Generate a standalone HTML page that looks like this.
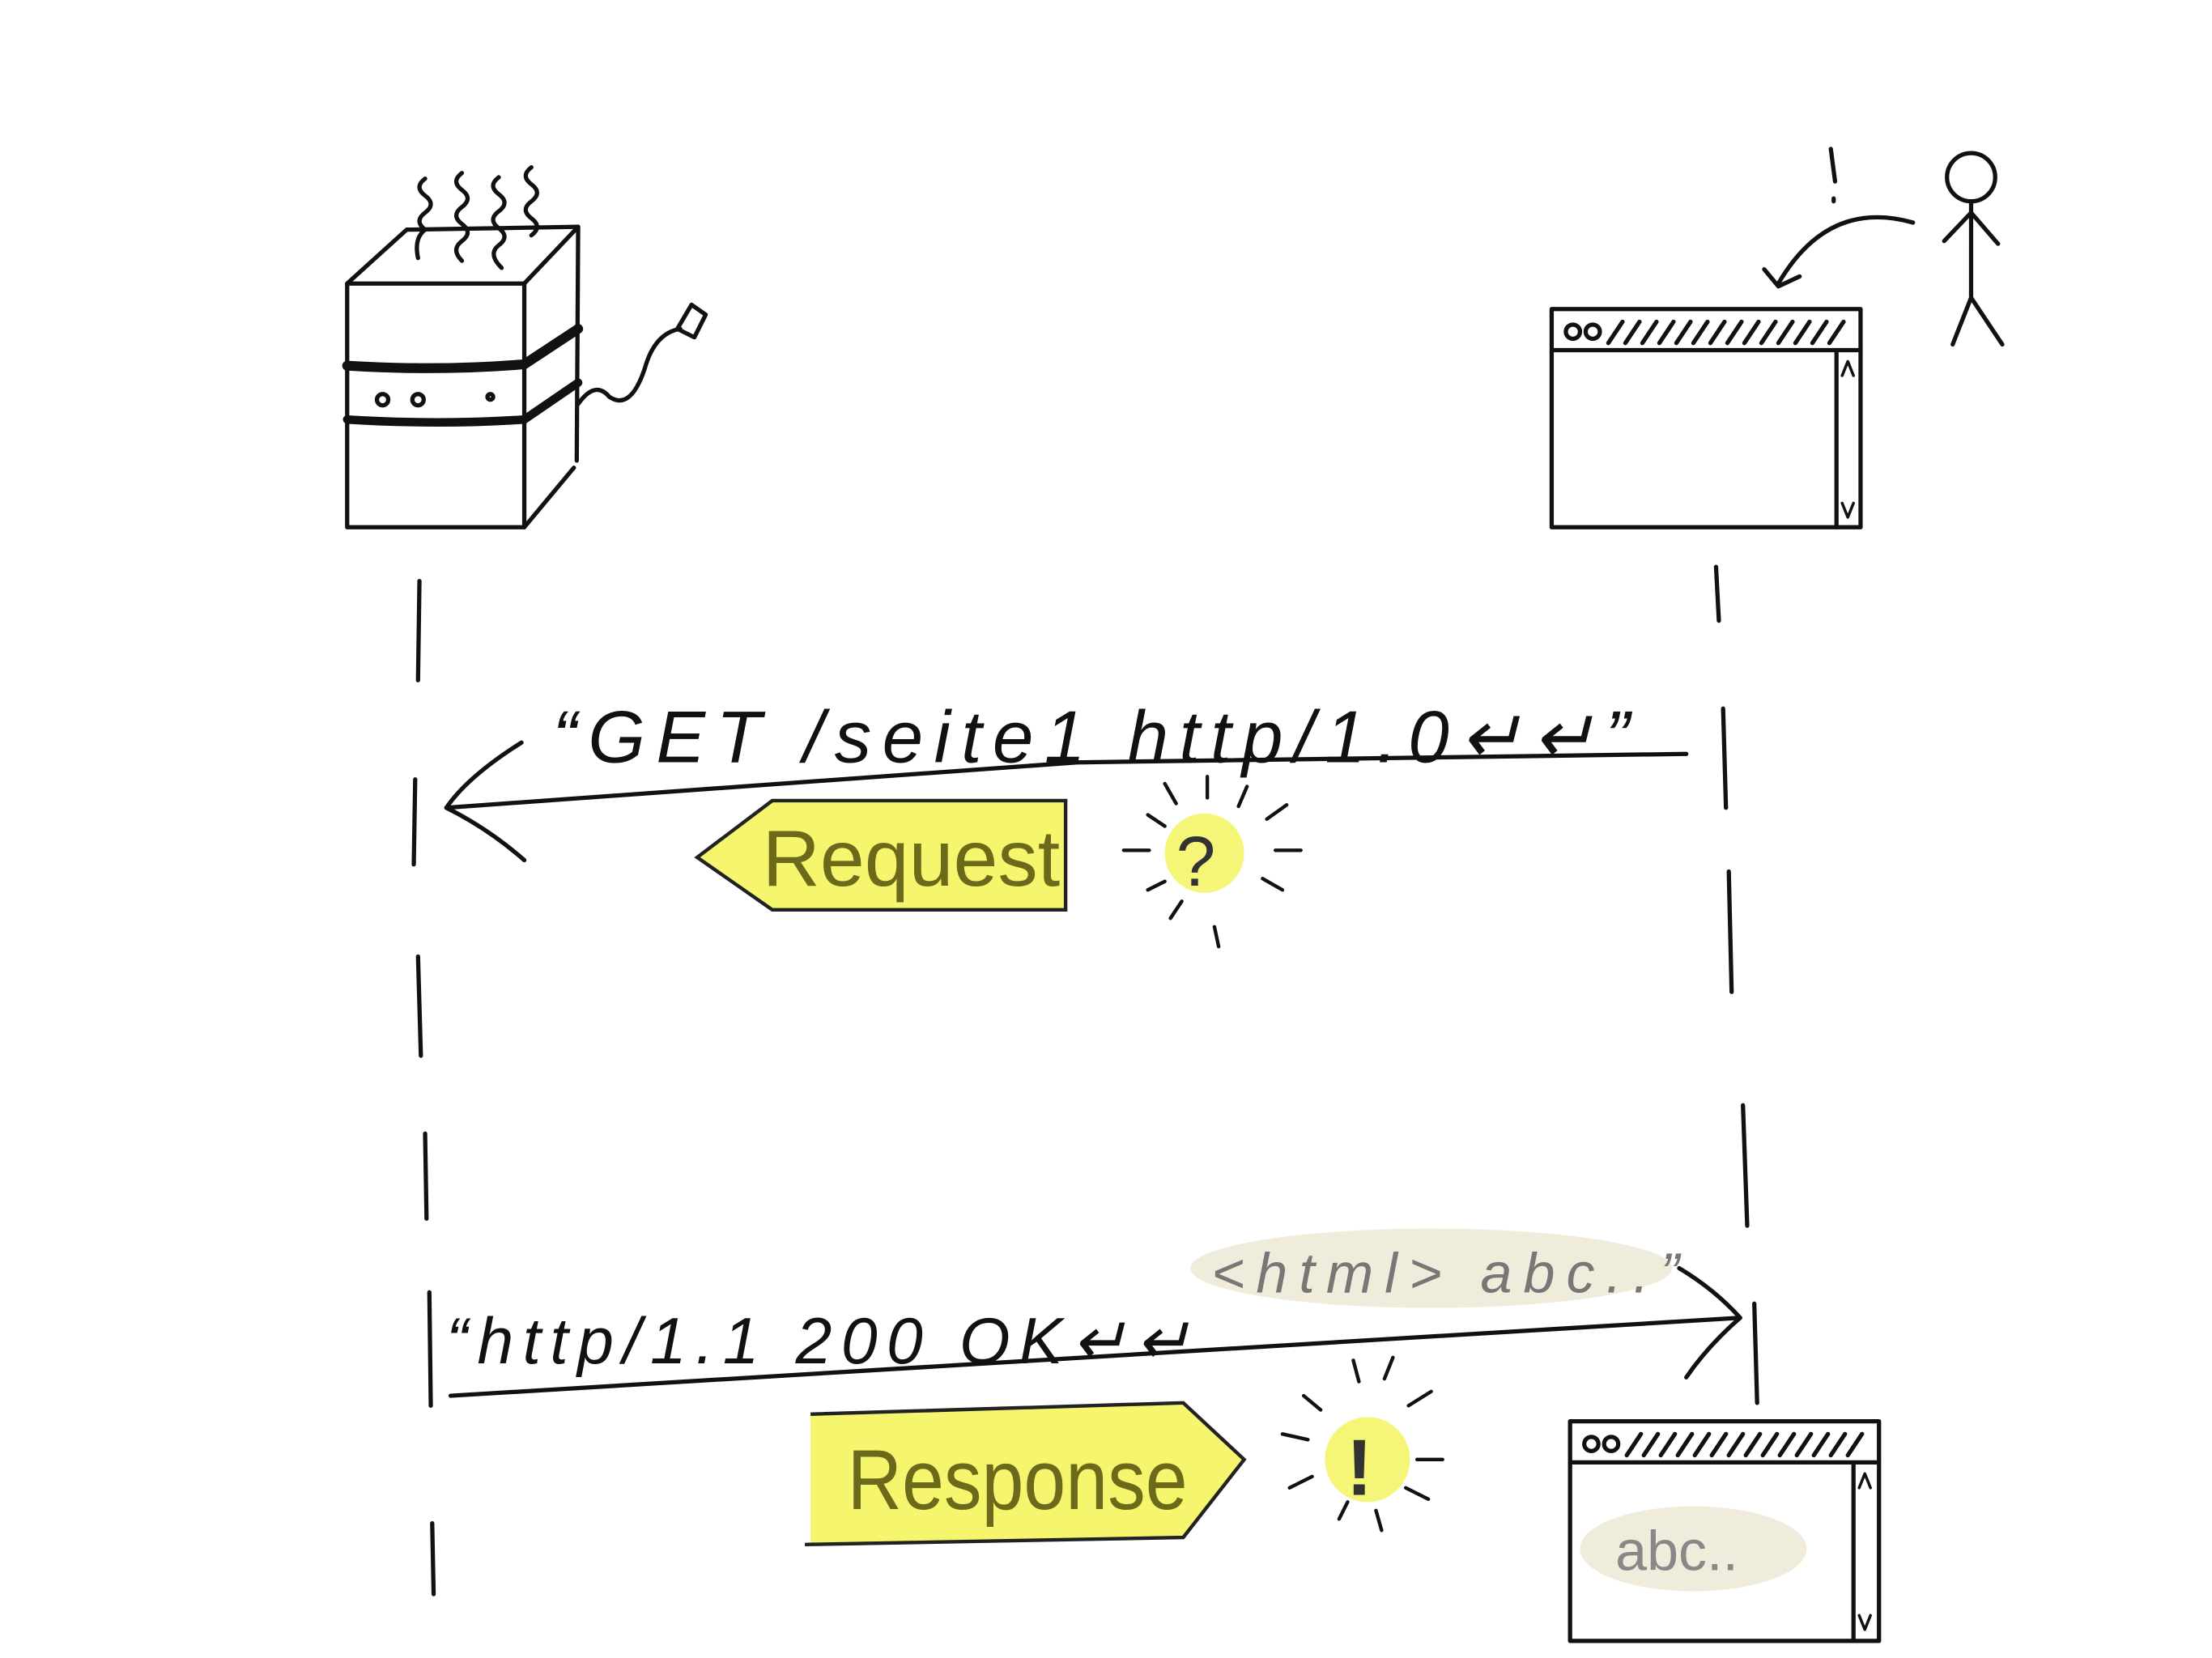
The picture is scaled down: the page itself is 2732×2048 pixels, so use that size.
<!DOCTYPE html>
<html><head><meta charset="utf-8"><style>
html,body{margin:0;padding:0;background:#fff;}
svg{display:block;}
text{font-family:"Liberation Sans",sans-serif;}
</style></head><body>
<svg width="2732" height="2048" viewBox="0 0 1561 1170" xmlns="http://www.w3.org/2000/svg">
<rect width="1561" height="1170" fill="#fff"/>
<g fill="none" stroke="#111" stroke-width="3" stroke-linecap="round" stroke-linejoin="round">
<!-- server -->
<rect x="245" y="200" width="125" height="172"/>
<path d="M245 200 L287 162 L408 160 L370 200"/>
<path d="M408 160 L407 325 M370 372 L405 330"/>
<path d="M245 258 Q310 262 370 257 L408 232" stroke-width="7"/>
<path d="M245 296 Q310 300 370 296 L408 270" stroke-width="6"/>
<circle cx="270" cy="282" r="4"/><circle cx="295" cy="282" r="4"/><circle cx="346" cy="280" r="2"/>
<path d="M300 126 q-8 6 0 12 q8 6 0 12 q-8 6 0 12 q-8 6 -5 20"/>
<path d="M326 122 q-8 6 0 12 q8 6 0 12 q-8 6 0 12 q8 6 0 12 q-8 6 0 14"/>
<path d="M352 125 q-8 6 0 12 q8 6 0 12 q-8 6 0 12 q8 6 0 12 q-8 6 2 16"/>
<path d="M375 118 q-8 6 0 12 q8 6 0 12 q-8 6 0 12 q8 6 0 12"/>
<path d="M408 285 Q420 268 430 280 Q445 290 455 260 Q462 235 480 232"/>
<path d="M478 232 L488 215 L498 222 L490 238 Z"/>
<!-- browser top -->
<rect x="1095" y="218" width="218" height="154"/>
<path d="M1095 247 L1313 247 M1296 247 L1296 372"/>
<circle cx="1110" cy="234" r="5"/><circle cx="1124" cy="234" r="5"/>
<path d="M1135 242 l10 -15 M1147 242 l10 -15 M1159 242 l10 -15 M1171 242 l10 -15 M1183 242 l10 -15 M1195 242 l10 -15 M1207 242 l10 -15 M1219 242 l10 -15 M1231 242 l10 -15 M1243 242 l10 -15 M1255 242 l10 -15 M1267 242 l10 -15 M1279 242 l10 -15 M1291 242 l10 -15"/>
<path d="M1300 265 l4 -10 l4 10 M1300 355 l4 10 l4 -10" stroke-width="2"/>
<!-- stick figure -->
<circle cx="1391" cy="125" r="17"/>
<path d="M1391 142 L1391 210 M1372 170 L1391 150 L1410 172 M1378 243 L1391 210 L1413 243"/>
<path d="M1292 105 L1295 128 M1294 140 l0 2"/>
<path d="M1350 157 Q1290 140 1255 200 M1245 190 L1255 202 L1270 195"/>
<!-- lifelines -->
<path d="M296 410 L295 480 M293 550 L292 610 M295 675 L297 745 M300 800 L301 860 M303 912 L304 992 M305 1075 L306 1125"/>
<path d="M1211 400 L1213 438 M1216 500 L1218 570 M1220 615 L1222 700 M1230 780 L1233 865 M1238 920 L1240 990"/>
<!-- request arrow -->
<path d="M1190 532 L760 538 L315 570"/>
<path d="M368 524 Q330 548 315 570 Q345 585 370 607"/>
<!-- response arrow -->
<path d="M318 985 L1228 930"/>
<path d="M1185 895 Q1210 910 1228 930 Q1205 950 1190 972"/>
<!-- browser bottom -->
<rect x="1108" y="1003" width="218" height="155"/>
<path d="M1108 1032 L1326 1032 M1308 1032 L1308 1158"/>
<circle cx="1123" cy="1019" r="5"/><circle cx="1137" cy="1019" r="5"/>
<path d="M1148 1027 l10 -15 M1160 1027 l10 -15 M1172 1027 l10 -15 M1184 1027 l10 -15 M1196 1027 l10 -15 M1208 1027 l10 -15 M1220 1027 l10 -15 M1232 1027 l10 -15 M1244 1027 l10 -15 M1256 1027 l10 -15 M1268 1027 l10 -15 M1280 1027 l10 -15 M1292 1027 l10 -15 M1304 1027 l10 -15"/>
<path d="M1312 1050 l4 -10 l4 10 M1312 1140 l4 10 l4 -10" stroke-width="2"/>
</g>
<!-- highlights -->
<path d="M545 565 L752 565 L752 642 L545 642 L492 605 Z" fill="#f2f24a" opacity="0.8"/>
<path d="M545 565 L752 565 L752 642 L545 642 L492 605 Z" fill="none" stroke="#222" stroke-width="2.5"/>
<path d="M572 998 L835 990 L878 1030 L835 1085 L572 1090 Z" fill="#f2f24a" opacity="0.8"/>
<path d="M572 998 L835 990 L878 1030 L835 1085 L568 1090" fill="none" stroke="#222" stroke-width="2.5"/>
<ellipse cx="1010" cy="895" rx="170" ry="28" fill="#ece7d2" opacity="0.8"/>
<ellipse cx="1195" cy="1093" rx="80" ry="30" fill="#ece7d2" opacity="0.8"/>
<circle cx="850" cy="602" r="28" fill="#f2f24a" opacity="0.75"/>
<circle cx="965" cy="1030" r="30" fill="#f2f24a" opacity="0.75"/>
<!-- sun rays -->
<g stroke="#111" stroke-width="2.5" stroke-linecap="round">
<path d="M793 600 l18 0 M810 575 l12 8 M822 553 l8 14 M852 548 l0 15 M880 555 l-6 14 M908 568 l-14 10 M918 600 l-18 0 M905 628 l-14 -8 M860 668 l-3 -14 M826 648 l8 -12 M810 628 l12 -6"/>
<path d="M905 1012 l18 4 M920 985 l12 10 M955 960 l4 15 M983 958 l-6 15 M1010 982 l-16 10 M1018 1030 l-18 0 M1008 1058 l-16 -8 M975 1080 l-4 -14 M945 1072 l6 -12 M910 1050 l16 -8"/>
</g>
<!-- text -->
<text x="390" y="538" font-size="52" fill="#111" font-style="italic" textLength="760" lengthAdjust="spacing">“GET  /seite1  http/1.0↵↵”</text>
<text x="538" y="625" font-size="56" fill="#6a6a1a" textLength="210" lengthAdjust="spacingAndGlyphs">Request</text>
<text x="830" y="625" font-size="50" fill="#333">?</text>
<text x="315" y="962" font-size="46" fill="#111" font-style="italic" textLength="525" lengthAdjust="spacing">“http/1.1  200  OK↵↵</text>
<text x="855" y="912" font-size="40" fill="#777" font-style="italic" textLength="330" lengthAdjust="spacing">&lt;html&gt; abc..”</text>
<text x="598" y="1065" font-size="60" fill="#6a6a1a" textLength="240" lengthAdjust="spacingAndGlyphs">Response</text>
<text x="950" y="1055" font-size="56" fill="#333" font-weight="bold">!</text>
<text x="1140" y="1108" font-size="40" fill="#888">abc..</text>
</svg>
</body></html>
